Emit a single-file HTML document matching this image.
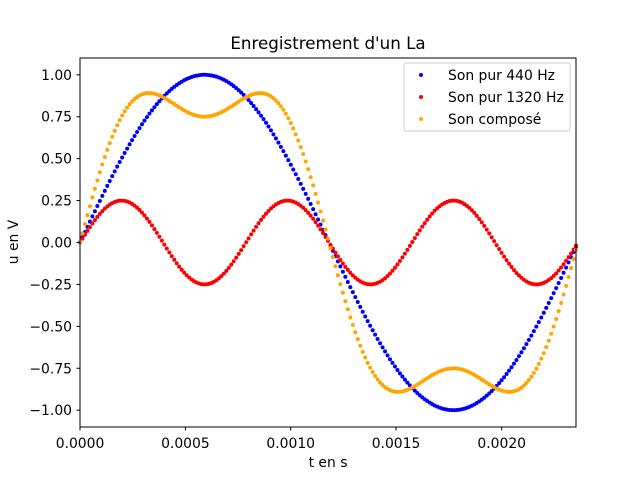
<!DOCTYPE html>
<html><head><meta charset="utf-8"><style>
body{margin:0;background:#fff}
svg text{font-family:"DejaVu Sans","Liberation Sans",sans-serif;fill:#000}
</style></head><body>
<svg id="s" width="640" height="480" xmlns="http://www.w3.org/2000/svg">
<rect width="640" height="480" fill="#fff"/>
<text x="328" y="49" font-size="16.7" text-anchor="middle">Enregistrement d'un La</text>
<g id="pts"></g>
<rect x="80" y="58" width="496" height="369" fill="none" stroke="#000" stroke-width="1"/>
<g id="ax" font-size="13.9"></g>
<text x="328" y="467" font-size="13.9" text-anchor="middle">t en s</text>
<text x="18" y="242" font-size="13.9" text-anchor="middle" transform="rotate(-90 18 242)">u en V</text>
<rect x="404" y="63" width="166" height="68" rx="2" fill="#fff" fill-opacity="0.8" stroke="#ccc"/>
<circle cx="421" cy="75" r="2" fill="blue"/><text x="448" y="80" font-size="13.9">Son pur 440 Hz</text>
<circle cx="421" cy="97" r="2" fill="red"/><text x="448" y="102" font-size="13.9">Son pur 1320 Hz</text>
<circle cx="421" cy="119" r="2" fill="orange"/><text x="448" y="124" font-size="13.9">Son composé</text>
</svg>
<script>
var ns="http://www.w3.org/2000/svg",g=document.getElementById("pts"),ax=document.getElementById("ax");
function el(t,a,p){var e=document.createElementNS(ns,t);for(var k in a)e.setAttribute(k,a[k]);p.appendChild(e);return e;}
var P=498,N=200,cy=242.5,sc=167.7;
var series=[["blue",function(t){return Math.sin(t)}],["red",function(t){return 0.25*Math.sin(3*t)}],["orange",function(t){return Math.sin(t)+0.25*Math.sin(3*t)}]];
series.forEach(function(s){for(var i=0;i<=N;i++){var x=80+496*i/N,t=2*Math.PI*(x-80)/P;el("circle",{cx:x,cy:cy-sc*s[1](t),r:2,fill:s[0]},g);}});
var xt=[["0.0000",80],["0.0005",185.4],["0.0010",290.7],["0.0015",396],["0.0020",501.7]];
xt.forEach(function(d){el("line",{x1:d[1],x2:d[1],y1:427,y2:430.5,stroke:"#000"},ax);var t=el("text",{x:d[1],y:448,"text-anchor":"middle"},ax);t.textContent=d[0];});
for(var v=1;v>=-1.001;v-=0.25){var y=cy-sc*v;el("line",{x1:76.5,x2:80,y1:y,y2:y,stroke:"#000"},ax);var t=el("text",{x:72,y:y+5,"text-anchor":"end"},ax);t.textContent=(Math.abs(v)<1e-9?0:v).toFixed(2).replace("-","−");}
</script>
</body></html>
